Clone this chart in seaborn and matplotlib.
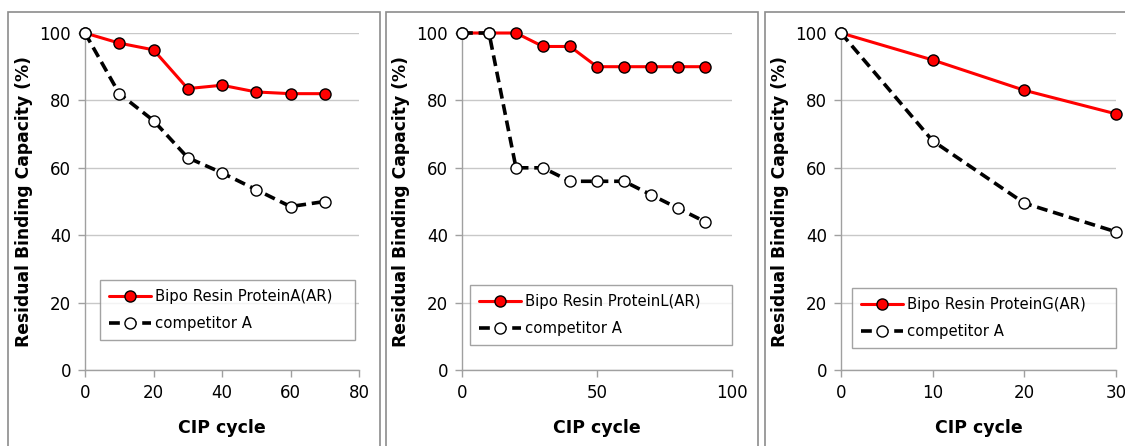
import pandas as pd
import numpy as np
import matplotlib.pyplot as plt
import seaborn as sns
from matplotlib.patches import Rectangle

# Data
cyc_a = [0, 10, 20, 30, 40, 50, 60, 70]
bipo_a = [100, 97, 95, 83.5, 84.5, 82.5, 82, 82]
comp_a = [100, 82, 74, 63, 58.5, 53.5, 48.5, 50]

cyc_l = [0, 10, 20, 30, 40, 50, 60, 70, 80, 90]
bipo_l = [100, 100, 100, 96, 96, 90, 90, 90, 90, 90]
comp_l = [100, 100, 60, 60, 56, 56, 56, 52, 48, 44]

cyc_g = [0, 10, 20, 30]
bipo_g = [100, 92, 83, 76]
comp_g = [100, 68, 49.5, 41]

labels = ['Bipo Resin ProteinA(AR)', 'Bipo Resin ProteinL(AR)', 'Bipo Resin ProteinG(AR)']
comp_label = 'competitor A'
xlims = [80, 100, 30]
xticks = [[0, 20, 40, 60, 80], [0, 50, 100], [0, 10, 20, 30]]

sns.set_style('white')
plt.rcParams['font.family'] = ['DejaVu Sans']
plt.rcParams['text.color'] = 'black'
plt.rcParams['axes.labelcolor'] = 'black'

fig = plt.figure(figsize=(11.25, 4.46), dpi=100)

# panel frames
for x0, x1 in [(8, 380), (386, 758), (765, 1130)]:
    fig.patches.append(Rectangle((x0 / 1125, -0.05), (x1 - x0) / 1125, 1 - 12 / 446 + 0.05,
                                 transform=fig.transFigure, fill=False,
                                 edgecolor='#8c8c8c', linewidth=1.2))

axes_pos = [(85, 359), (462, 732), (841, 1116)]
legend_boxes = [(0.055, 0.089, 0.93, 0.163), (0.03, 0.074, 0.97, 0.163), (0.04, 0.065, 0.96, 0.195)]
panels = [(cyc_a, bipo_a, comp_a), (cyc_l, bipo_l, comp_l), (cyc_g, bipo_g, comp_g)]

for i, (cyc, bipo, comp) in enumerate(panels):
    l, r = axes_pos[i]
    ax = fig.add_axes([l / 1125, 1 - 370 / 446, (r - l) / 1125, (370 - 33) / 446])
    df = pd.DataFrame({'cycle': cyc, 'bipo': bipo, 'comp': comp})

    sns.lineplot(data=df, x='cycle', y='bipo', ax=ax, color='#ff0000', linewidth=2.2,
                 marker='o', markersize=8, markerfacecolor='#ff0000', markeredgecolor='black',
                 markeredgewidth=1.0, label=labels[i], clip_on=False, zorder=3)
    sns.lineplot(data=df, x='cycle', y='comp', ax=ax, color='black', linewidth=2.6,
                 linestyle=(0, (3, 1.6)), marker='o', markersize=8, markerfacecolor='white',
                 markeredgecolor='black', markeredgewidth=1.0, label=comp_label,
                 clip_on=False, zorder=4)

    ax.set_xlim(0, xlims[i])
    ax.set_ylim(0, 100)
    ax.set_xticks(xticks[i])
    ax.set_yticks([0, 20, 40, 60, 80, 100])
    ax.yaxis.grid(True, color='#c8c8c8', linewidth=1)
    ax.set_axisbelow(True)
    for s in ['top', 'right']:
        ax.spines[s].set_visible(False)
    for s in ['left', 'bottom']:
        ax.spines[s].set_color('#a0a0a0')
        ax.spines[s].set_linewidth(1)
    ax.tick_params(axis='both', which='both', direction='out', length=5, width=1,
                   color='#a0a0a0', labelsize=12, labelcolor='black', pad=5,
                   bottom=True, left=True)
    ax.set_xlabel('CIP cycle', fontsize=12.5, fontweight='bold', labelpad=12, color='black')
    ax.set_ylabel('Residual Binding Capacity (%)', fontsize=12.3, fontweight='bold',
                  labelpad=5, color='black')

    leg = ax.legend(loc='lower left', bbox_to_anchor=legend_boxes[i], mode='expand',
                    fontsize=10.7, frameon=True, fancybox=False, handlelength=2.8,
                    handletextpad=0.3, borderpad=0.6, labelspacing=0.8, borderaxespad=0)
    leg.get_frame().set_edgecolor('#8c8c8c')
    leg.get_frame().set_linewidth(1)

fig.savefig('out.png', dpi=100)
